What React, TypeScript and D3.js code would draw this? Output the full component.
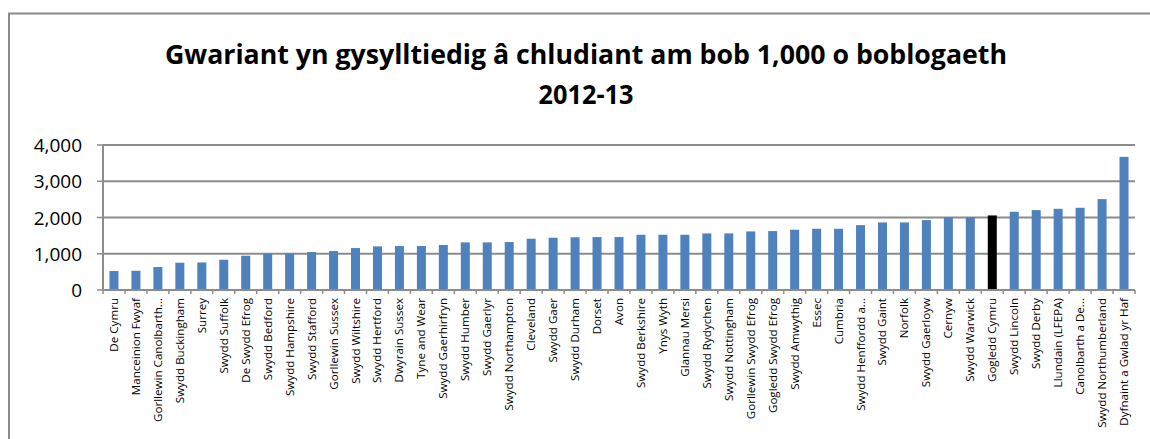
import React from "react";
import * as d3 from "d3";

const categories: string[] = [
  "De Cymru", "Manceinion Fwyaf", "Gorllewin Canolbarth...", "Swydd Buckingham", "Surrey",
  "Swydd Suffolk", "De Swydd Efrog", "Swydd Bedford", "Swydd Hampshire", "Swydd Stafford",
  "Gorllewin Sussex", "Swydd Wiltshire", "Swydd Hertford", "Dwyrain Sussex", "Tyne and Wear",
  "Swydd Gaerhirfryn", "Swydd Humber", "Swydd Gaerlyr", "Swydd Northampton", "Cleveland",
  "Swydd Gaer", "Swydd Durham", "Dorset", "Avon", "Swydd Berkshire",
  "Ynys Wyth", "Glannau Mersi", "Swydd Rydychen", "Swydd Nottingham", "Gorllewin Swydd Efrog",
  "Gogledd Swydd Efrog", "Swydd Amwythig", "Essec", "Cumbria", "Swydd Henffordd a...",
  "Swydd Gaint", "Norfolk", "Swydd Gaerloyw", "Cernyw", "Swydd Warwick",
  "Gogledd Cymru", "Swydd Lincoln", "Swydd Derby", "Llundain (LFEPA)", "Canolbarth a De...",
  "Swydd Northumberland", "Dyfnaint a Gwlad yr Haf",
];

const values: number[] = [
  523, 530, 633, 752, 760,
  835, 945, 1010, 1010, 1047,
  1074, 1157, 1203, 1212, 1212,
  1240, 1313, 1313, 1322, 1414,
  1441, 1455, 1460, 1460, 1524,
  1524, 1524, 1561, 1561, 1616,
  1625, 1662, 1689, 1689, 1790,
  1864, 1864, 1928, 2002, 2011,
  2057, 2158, 2204, 2240, 2268,
  2507, 3673,
];

const highlight = "Gogledd Cymru";
const yTicks: number[] = [0, 1000, 2000, 3000, 4000];
const titleLines: string[] = [
  "Gwariant yn gysylltiedig â chludiant am bob 1,000 o boblogaeth",
  "2012-13",
];

export default function App() {
  const W = 1150, H = 439;
  const left = 103, right = 1135, top = 145, bottom = 290;
  const x = d3.scaleBand<string>().domain(categories).range([left, right]).paddingInner(0.59).paddingOuter(0.295);
  const xb = d3.scaleBand<string>().domain(categories).range([left, right]);
  const y = d3.scaleLinear().domain([0, 4000]).range([bottom, top]);
  const fmt = d3.format(",");
  const grid = "#8c8c8c";
  return (
    <svg width={W} height={H} style={{ position: "absolute", left: 0, top: 0, background: "#fff" }}>
      <rect x={0} y={0} width={W} height={H} fill="#fff" />
      <rect x={9} y={13.5} width={1300} height={600} fill="none" stroke="#8a8a8a" strokeWidth={2} />
      {titleLines.map((t, i) => (
        <text key={i} x={586} y={i === 0 ? 64 : 104} textAnchor="middle"
          fontFamily="'Open Sans', sans-serif" fontWeight="bold" fontSize={26.5}
          textLength={i === 0 ? 842 : 95} lengthAdjust="spacingAndGlyphs" fill="#000">{t}</text>
      ))}
      {yTicks.map((t) => (
        <g key={t}>
          {t > 0 && <line x1={left} x2={right} y1={y(t)} y2={y(t)} stroke={grid} strokeWidth={2} />}
          <line x1={left - 6} x2={left} y1={y(t)} y2={y(t)} stroke={grid} strokeWidth={1.5} />
          <text x={82} y={y(t) + 7} textAnchor="end" fontFamily="'Open Sans', sans-serif" fontSize={19} fill="#000">{fmt(t)}</text>
        </g>
      ))}
      {categories.map((c, i) => (
        <rect key={c} x={x(c)} y={y(values[i])} width={x.bandwidth()} height={bottom - y(values[i])}
          fill={c === highlight ? "#000000" : "#4F81BD"} />
      ))}
      <line x1={left} x2={left} y1={top} y2={bottom} stroke={grid} strokeWidth={2} />
      <line x1={left} x2={right} y1={bottom} y2={bottom} stroke={grid} strokeWidth={2} />
      {categories.map((c) => (
        <line key={"t" + c} x1={(xb(c) as number) + xb.bandwidth()} x2={(xb(c) as number) + xb.bandwidth()} y1={bottom} y2={bottom + 4} stroke={grid} strokeWidth={1.5} />
      ))}
      <line x1={left} x2={left} y1={bottom} y2={bottom + 4} stroke={grid} strokeWidth={1.5} />
      {categories.map((c) => {
        const cx = (xb(c) as number) + xb.bandwidth() / 2;
        return (
          <text key={"l" + c} transform={`translate(${cx + 4},298) rotate(-90)`} textAnchor="end"
            fontFamily="'Open Sans', sans-serif" fontSize={11.6} fill="#000">{c}</text>
        );
      })}
    </svg>
  );
}
